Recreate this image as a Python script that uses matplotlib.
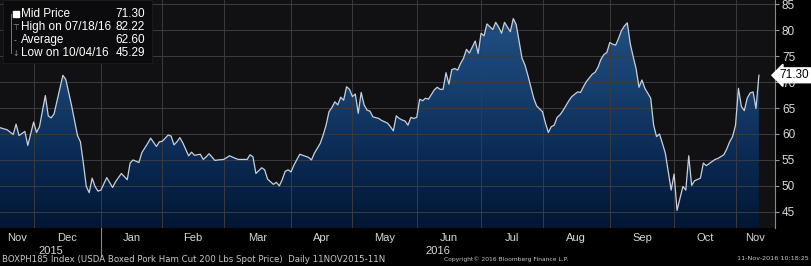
import numpy as np
import matplotlib
matplotlib.use('Agg')
import matplotlib.pyplot as plt
from matplotlib.colors import LinearSegmentedColormap
from matplotlib.lines import Line2D
from matplotlib.patches import Rectangle
import matplotlib.transforms as mtransforms

# BOXPH185 mid price
dates = [
    '2015-11-11', '2015-11-13', '2015-11-18', '2015-11-20', '2015-11-23', '2015-11-24',
    '2015-11-26', '2015-11-27', '2015-12-01', '2015-12-02', '2015-12-03', '2015-12-07',
    '2015-12-08', '2015-12-09', '2015-12-10', '2015-12-15', '2015-12-16', '2015-12-18',
    '2015-12-22', '2015-12-23', '2015-12-24', '2015-12-25', '2015-12-28', '2015-12-29',
    '2015-12-30', '2015-12-31', '2016-01-01', '2016-01-05', '2016-01-07', '2016-01-08',
    '2016-01-12', '2016-01-14', '2016-01-15', '2016-01-18', '2016-01-20', '2016-01-21',
    '2016-01-25', '2016-01-26', '2016-01-28', '2016-01-29', '2016-02-01', '2016-02-03',
    '2016-02-04', '2016-02-05', '2016-02-08', '2016-02-09', '2016-02-10', '2016-02-12',
    '2016-02-15', '2016-02-16', '2016-02-18', '2016-02-19', '2016-02-22', '2016-02-23',
    '2016-02-25', '2016-02-26', '2016-03-01', '2016-03-03', '2016-03-07', '2016-03-08',
    '2016-03-11', '2016-03-14', '2016-03-15', '2016-03-16', '2016-03-18', '2016-03-21',
    '2016-03-22', '2016-03-24', '2016-03-25', '2016-03-28', '2016-03-29', '2016-03-30',
    '2016-03-31', '2016-04-01', '2016-04-04', '2016-04-06', '2016-04-07', '2016-04-11',
    '2016-04-12', '2016-04-13', '2016-04-15', '2016-04-18', '2016-04-19', '2016-04-20',
    '2016-04-21', '2016-04-22', '2016-04-25', '2016-04-26', '2016-04-27', '2016-04-28',
    '2016-04-29', '2016-05-02', '2016-05-03', '2016-05-04', '2016-05-05', '2016-05-06',
    '2016-05-09', '2016-05-10', '2016-05-11', '2016-05-13', '2016-05-16', '2016-05-18',
    '2016-05-19', '2016-05-20', '2016-05-23', '2016-05-24', '2016-05-25', '2016-05-26',
    '2016-05-27', '2016-05-30', '2016-05-31', '2016-06-01', '2016-06-02', '2016-06-03',
    '2016-06-06', '2016-06-07', '2016-06-08', '2016-06-09', '2016-06-10', '2016-06-13',
    '2016-06-14', '2016-06-15', '2016-06-16', '2016-06-17', '2016-06-20', '2016-06-21',
    '2016-06-22', '2016-06-23', '2016-06-24', '2016-06-27', '2016-06-29', '2016-06-30',
    '2016-07-01', '2016-07-04', '2016-07-05', '2016-07-07', '2016-07-08', '2016-07-11',
    '2016-07-12', '2016-07-13', '2016-07-14', '2016-07-15', '2016-07-18', '2016-07-19',
    '2016-07-20', '2016-07-21', '2016-07-22', '2016-07-25', '2016-07-26', '2016-07-27',
    '2016-07-28', '2016-08-01', '2016-08-02', '2016-08-03', '2016-08-04', '2016-08-05',
    '2016-08-08', '2016-08-09', '2016-08-10', '2016-08-12', '2016-08-15', '2016-08-17',
    '2016-08-18', '2016-08-19', '2016-08-22', '2016-08-24', '2016-08-25', '2016-08-26',
    '2016-08-29', '2016-08-30', '2016-08-31', '2016-09-01', '2016-09-02', '2016-09-05',
    '2016-09-06', '2016-09-07', '2016-09-08', '2016-09-09', '2016-09-12', '2016-09-13',
    '2016-09-14', '2016-09-15', '2016-09-16', '2016-09-19', '2016-09-21', '2016-09-22',
    '2016-09-23', '2016-09-26', '2016-09-27', '2016-09-28', '2016-09-30', '2016-10-03',
    '2016-10-04', '2016-10-06', '2016-10-07', '2016-10-10', '2016-10-11', '2016-10-12',
    '2016-10-14', '2016-10-17', '2016-10-18', '2016-10-19', '2016-10-21', '2016-10-24',
    '2016-10-26', '2016-10-27', '2016-10-28', '2016-10-31', '2016-11-01', '2016-11-02',
    '2016-11-03', '2016-11-04', '2016-11-07', '2016-11-08', '2016-11-09', '2016-11-10',
    '2016-11-11',
]
prices = [
    61.6, 61.3, 60.8, 59.9, 61.9, 59.7,
    60.5, 57.8, 62.3, 60.3, 61.4, 67.4,
    63.5, 63.1, 63.9, 71.3, 70.5, 65.4,
    59.7, 58.5, 54.4, 49.9, 48.7, 51.5,
    49.9, 49.0, 49.2, 51.6, 49.7, 50.8,
    52.4, 51.2, 54.4, 55.0, 54.5, 56.4,
    58.2, 59.2, 57.6, 58.5, 58.6, 59.8,
    59.6, 57.9, 58.5, 59.3, 58.3, 55.8,
    56.5, 55.9, 56.1, 55.1, 55.6, 56.2,
    54.9, 55.0, 55.1, 55.8, 55.3, 55.1,
    55.1, 56.0, 55.6, 52.4, 53.5, 53.1,
    51.3, 50.3, 50.7, 50.0, 51.2, 52.8,
    53.1, 52.7, 54.0, 56.1, 55.9, 55.5,
    55.0, 56.3, 58.2, 59.8, 61.7, 64.3,
    65.1, 66.2, 65.6, 67.1, 66.5, 69.1,
    68.6, 67.2, 67.7, 64.0, 68.0, 65.6,
    64.6, 64.4, 63.3, 63.0, 62.6, 62.1,
    61.4, 60.6, 63.5, 63.0, 62.7, 62.5,
    61.7, 63.2, 63.0, 63.2, 66.7, 66.4,
    66.9, 66.7, 67.6, 68.5, 69.0, 68.6,
    68.6, 71.8, 69.6, 72.4, 72.6, 72.3,
    73.6, 74.6, 76.3, 75.6, 77.9, 75.5,
    79.4, 78.9, 81.2, 80.1, 81.5, 80.6,
    79.4, 81.5, 80.6, 79.7, 82.22, 81.1,
    77.9, 74.6, 73.3, 71.3, 69.1, 66.9,
    65.4, 64.3, 62.1, 60.3, 61.4, 61.7,
    63.2, 63.7, 64.5, 66.4, 67.2, 68.1,
    68.0, 69.1, 70.1, 71.5, 71.9, 72.9,
    74.4, 75.3, 75.7, 77.6, 77.3, 77.1,
    78.4, 79.9, 80.8, 81.4, 77.4, 74.9,
    72.6, 69.0, 70.4, 68.8, 66.9, 61.7,
    59.5, 60.0, 58.2, 56.3, 49.2, 52.3,
    45.29, 49.9, 49.2, 55.8, 50.1, 51.0,
    51.5, 54.4, 53.9, 54.3, 55.1, 55.3,
    56.0, 57.1, 58.5, 59.5, 61.7, 68.8,
    65.3, 64.5, 66.9, 67.9, 68.1, 64.9,
    71.30,
]

month_starts = ['2015-12-01', '2016-01-01', '2016-02-01', '2016-03-01', '2016-04-01',
                '2016-05-01', '2016-06-01', '2016-07-01', '2016-08-01', '2016-09-01',
                '2016-10-01', '2016-11-01']
month_names = ['Nov', 'Dec', 'Jan', 'Feb', 'Mar', 'Apr', 'May', 'Jun', 'Jul', 'Aug',
               'Sep', 'Oct', 'Nov']
year_names = ['2015', '2016']
y_ticks = [45, 50, 55, 60, 65, 70, 75, 80, 85]

legend_labels = ['Mid Price', 'High on 07/18/16', 'Average', 'Low on 10/04/16']
legend_values = ['71.30', '82.22', '62.60', '45.29']
last_label = '71.30'

footer_left = 'BOXPH185 Index (USDA Boxed Pork Ham Cut 200 Lbs Spot Price)  Daily 11NOV2015-11N'
footer_mid = 'Copyright\u00a9 2016 Bloomberg Finance L.P.'
footer_right = '11-Nov-2016 10:18:25'

# x axis counts weekdays from the first date
start = np.datetime64(dates[0])
x = np.array([np.busday_count(start, np.datetime64(d)) for d in dates])
y = np.array(prices)
bounds = [int(np.busday_count(start, np.busday_offset(np.datetime64(m), 0, roll='forward')))
          for m in month_starts]

x_lo, x_hi = 2.5, 267.5
y_lo, y_hi = 41.9, 85.8

W, H = 811, 266
fig = plt.figure(figsize=(W / 100, H / 100), dpi=100, facecolor='black')
ax = fig.add_axes([0, 38 / H, 775 / W, 228 / H])
ax.set_facecolor('#111114')

# gradient fill under the line
poly = ax.fill_between(x, y, y_lo - 1, color='none', lw=0)
cmap = LinearSegmentedColormap.from_list('bb', ['#021634', '#0a2a53', '#17406f', '#224f83'])
grad = np.linspace(0, 1, 256).reshape(-1, 1)
im = ax.imshow(grad, extent=[x[0], x[-1], y_lo, 83], origin='lower', aspect='auto',
               cmap=cmap, zorder=1)
im.set_clip_path(poly.get_paths()[0], ax.transData)

ax.plot(x, y, color='#c8d0da', lw=0.9, zorder=3)

ax.set_xlim(x_lo, x_hi)
ax.set_ylim(y_lo, y_hi)

# grid
ax.set_axisbelow(False)
ax.set_yticks(y_ticks)
ax.set_xticks(bounds)
ax.grid(True, color='#3b3b40', lw=0.7)
ax.tick_params(axis='x', length=0, labelbottom=False)
ax.yaxis.tick_right()
ax.tick_params(axis='y', length=3, width=0.8, color='#9a9a9a', labelcolor='#dcdcdc',
               labelsize=8.5, pad=2)
for lbl in ax.get_yticklabels():
    lbl.set_fontfamily('Liberation Sans')
for side in ['left', 'top', 'bottom']:
    ax.spines[side].set_visible(False)
ax.spines['right'].set_color('#8a8a8a')
ax.spines['right'].set_linewidth(0.8)

# month and year labels
trans = mtransforms.blended_transform_factory(ax.transData, ax.transAxes)
edges = [x_lo] + bounds + [x_hi]
for i, name in enumerate(month_names):
    ax.text((edges[i] + edges[i + 1]) / 2, -0.044, name, transform=trans, ha='center',
            va='center', color='#d8d8d8', fontsize=8, family='Liberation Sans')
year_edges = [x_lo, bounds[1], x_hi]
for i, name in enumerate(year_names):
    ax.text((year_edges[i] + year_edges[i + 1]) / 2, -0.10, name, transform=trans,
            ha='center', va='center', color='#d8d8d8', fontsize=8, family='Liberation Sans')
ax.plot([bounds[1], bounds[1]], [0, -0.125], transform=trans, color='#8a8a8a', lw=0.8,
        clip_on=False)

# last price tag (sits over the 70 tick label, as in the terminal screenshot)
ytrans = mtransforms.blended_transform_factory(ax.transAxes, ax.transData)
ax.text(1.006, prices[-1], last_label, transform=ytrans, ha='left', va='center',
        fontsize=8.5, family='Liberation Sans', color='black', zorder=5, clip_on=False,
        bbox=dict(boxstyle='larrow,pad=0.12', fc='white', ec='white'))

# legend box
fig.add_artist(Rectangle((3 / W, 1 - 63 / H), 149 / W, 63 / H, transform=fig.transFigure,
                         fc='#0b0b0d', ec='#1c1c20', lw=0.8, alpha=0.95, zorder=4))
rows = [14.3, 27.0, 40.3, 53.3]
for i in range(4):
    fig.text(21 / W, 1 - rows[i] / H, legend_labels[i], ha='left', va='center', color='white',
             fontsize=8.5, family='Liberation Sans', zorder=5)
    fig.text(145 / W, 1 - rows[i] / H, legend_values[i], ha='right', va='center',
             color='white', fontsize=8.5, family='Liberation Sans', zorder=5)
fig.add_artist(Line2D([11 / W, 11 / W], [1 - rows[0] / H, 1 - rows[3] / H], color='#777777',
                      lw=0.7, zorder=5))
fig.add_artist(Line2D([15.5 / W], [1 - rows[0] / H], marker='s', ms=4.5, color='white',
                      lw=0, zorder=6))
marks = ['\u22a4', '-', '\u2193']
for i, m in enumerate(marks):
    fig.text(15.5 / W, 1 - rows[i + 1] / H, m, ha='center', va='center', color='#999999',
             fontsize=5.5, zorder=6)

# footer
fig.text(2 / W, 7 / H, footer_left, ha='left', va='center', color='#c8c8c8', fontsize=6.2)
fig.text(444 / W, 7 / H, footer_mid, ha='left', va='center', color='#c8c8c8', fontsize=4.3)
fig.text(809 / W, 7 / H, footer_right, ha='right', va='center', color='#c8c8c8', fontsize=4.6)

fig.savefig('out.png', dpi=100, facecolor='black')
